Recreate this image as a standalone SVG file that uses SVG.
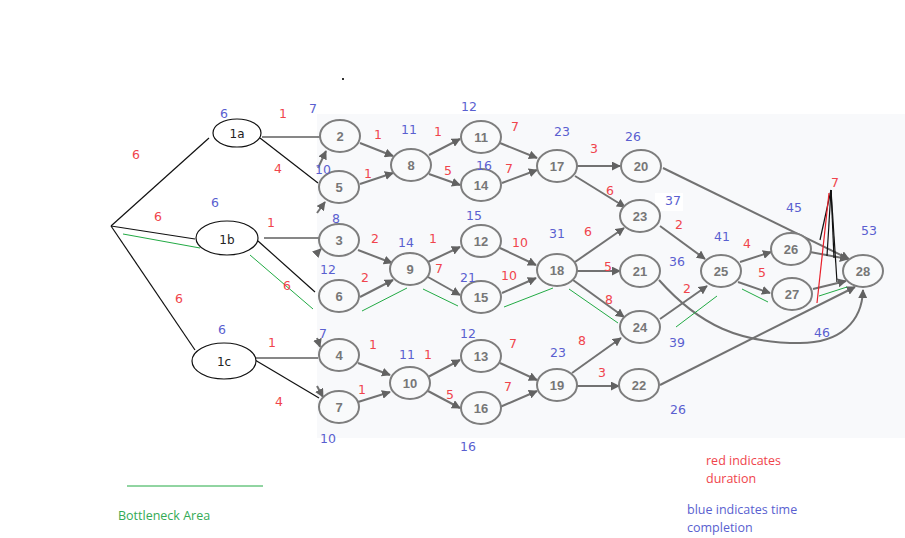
<svg xmlns="http://www.w3.org/2000/svg" width="905" height="538" viewBox="0 0 905 538">
<defs>
<marker id="ah" viewBox="0 0 10 10" refX="9" refY="5" markerWidth="4.5" markerHeight="4.5" orient="auto"><path d="M0,0 L10,5 L0,10 z" fill="#626262"/></marker>
<style>
.bg{fill:#f8f9fb}
.g ellipse{fill:#f9fafb;stroke:#7e7e7e;stroke-width:2}
.g text{font-family:"Liberation Sans",Arial,sans-serif;font-weight:bold;font-size:13px;fill:#777;text-anchor:middle;dominant-baseline:central}
.b ellipse{fill:#fff;stroke:#111;stroke-width:1.2}
.b text{font-family:"DejaVu Sans",Verdana,sans-serif;font-size:12px;fill:#222;text-anchor:middle;dominant-baseline:central}
.a{stroke:#727272;stroke-width:2;fill:none;marker-end:url(#ah)}
.k{stroke:#111;stroke-width:1.2;fill:none}
.gr{stroke:#22aa44;stroke-width:1;fill:none}
.rl{stroke:#e8202a;stroke-width:1.2;fill:none}
.lb text{font-family:"DejaVu Sans",Verdana,sans-serif;font-size:12.5px;text-anchor:middle;dominant-baseline:central}
.r{fill:#f0444c}
.u{fill:#5a5fd0}
.lg{font-family:"Open Sans","Liberation Sans",sans-serif;font-size:12.5px}
</style>
</defs>
<rect width="905" height="538" fill="#fff"/>
<rect class="bg" x="317" y="114" width="588" height="324"/>
<rect x="655" y="193" width="28" height="18" fill="#fff"/>
<rect x="342" y="78" width="2" height="2" fill="#333"/>

<g id="connectors">
<path class="k" d="M111,226 L209,138"/>
<path class="k" d="M111,226 L195,239"/>
<path class="k" d="M111,226 L195,350"/>
<path class="k" d="M262,137 L323,137"/>
<path class="k" d="M260,138 L318,183"/>
<path class="k" d="M264,238 L326,238"/>
<path class="k" d="M258,241 L315,292"/>
<path class="k" d="M256,358 L318,358"/>
<path class="k" d="M255,360 L319,398"/>
<path class="a" d="M318,168 L326,151"/>
<path class="a" d="M317,213 L325,202"/>
<path class="a" d="M316,254 L321,249"/>
<path class="a" d="M317,338 L320,347"/>
<path class="a" d="M317,386 L323,397"/>
<path class="a" d="M360,143 L393,156"/>
<path class="a" d="M360,184 L393,173"/>
<path class="a" d="M429,155 L460,139"/>
<path class="a" d="M429,174 L460,185"/>
<path class="a" d="M500,143 L537,158"/>
<path class="a" d="M502,183 L537,170"/>
<path class="a" d="M577,166 L620,166"/>
<path class="a" d="M575,176 L625,207"/>
<path class="a" d="M358,250 L392,263"/>
<path class="a" d="M360,297 L393,280"/>
<path class="a" d="M428,262 L460,247"/>
<path class="a" d="M428,277 L460,295"/>
<path class="a" d="M500,248 L536,265"/>
<path class="a" d="M502,293 L536,278"/>
<path class="a" d="M575,262 L624,228"/>
<path class="a" d="M577,271 L620,271"/>
<path class="a" d="M573,280 L624,317"/>
<path class="a" d="M358,363 L390,375"/>
<path class="a" d="M358,402 L390,392"/>
<path class="a" d="M428,377 L460,360"/>
<path class="a" d="M428,391 L460,408"/>
<path class="a" d="M500,363 L537,380"/>
<path class="a" d="M500,407 L537,391"/>
<path class="a" d="M572,373 L621,338"/>
<path class="a" d="M577,386 L619,386"/>
<path class="a" d="M660,226 L705,259"/>
<path class="a" d="M660,319 L707,286"/>
<path class="a" d="M740,262 L771,252"/>
<path class="a" d="M738,282 L770,293"/>
<path class="a" d="M663,168 L849,259"/>
<path class="a" d="M810,252 L848,259"/>
<path class="a" d="M813,289 L846,281"/>
<path class="a" d="M660,385 L855,287"/>
<path class="a" d="M659,280 C700,326 740,343 800,343 C840,343 862,322 863,290"/>
<path class="k" d="M831,190 L820,240"/>
<path class="k" d="M831,190 L827,256"/>
<path class="k" d="M831,190 L834,258"/>
<path class="k" d="M831,190 L837,282"/>
<path class="rl" d="M829,193 L817,303"/>
<path class="gr" d="M123,234 L200,248"/>
<path class="gr" d="M250,255 L313,309"/>
<path class="gr" d="M362,311 L407,288"/>
<path class="gr" d="M423,289 L458,306"/>
<path class="gr" d="M504,307 L553,288"/>
<path class="gr" d="M569,289 L618,323"/>
<path class="gr" d="M676,327 L717,296"/>
<path class="gr" d="M742,289 L768,302"/>
<path class="gr" d="M819,296 L847,287"/>
</g>

<g id="n1a" class="b"><ellipse cx="237" cy="133" rx="24" ry="14"/><text x="237" y="134">1a</text></g>
<g id="n1b" class="b"><ellipse cx="227" cy="238" rx="31" ry="17"/><text x="227" y="240">1b</text></g>
<g id="n1c" class="b"><ellipse cx="224" cy="361" rx="32" ry="18"/><text x="224" y="362">1c</text></g>

<g id="n2" class="g"><ellipse cx="340" cy="136" rx="20" ry="16"/><text x="340" y="136">2</text></g>
<g id="n5" class="g"><ellipse cx="339" cy="187" rx="20" ry="16"/><text x="339" y="187">5</text></g>
<g id="n3" class="g"><ellipse cx="339" cy="240" rx="20" ry="16"/><text x="339" y="240">3</text></g>
<g id="n6" class="g"><ellipse cx="339" cy="296" rx="20" ry="16"/><text x="339" y="296">6</text></g>
<g id="n4" class="g"><ellipse cx="339" cy="355" rx="20" ry="16"/><text x="339" y="355">4</text></g>
<g id="n7" class="g"><ellipse cx="339" cy="407" rx="20" ry="16"/><text x="339" y="407">7</text></g>
<g id="n8" class="g"><ellipse cx="411" cy="165" rx="20" ry="16"/><text x="411" y="165">8</text></g>
<g id="n9" class="g"><ellipse cx="410" cy="269" rx="20" ry="16"/><text x="410" y="269">9</text></g>
<g id="n10" class="g"><ellipse cx="410" cy="383" rx="20" ry="16"/><text x="410" y="383">10</text></g>
<g id="n11" class="g"><ellipse cx="481" cy="137" rx="20" ry="16"/><text x="481" y="137">11</text></g>
<g id="n14" class="g"><ellipse cx="481" cy="185" rx="20" ry="16"/><text x="481" y="185">14</text></g>
<g id="n12" class="g"><ellipse cx="481" cy="241" rx="20" ry="16"/><text x="481" y="241">12</text></g>
<g id="n15" class="g"><ellipse cx="481" cy="297" rx="20" ry="16"/><text x="481" y="297">15</text></g>
<g id="n13" class="g"><ellipse cx="481" cy="356" rx="20" ry="16"/><text x="481" y="356">13</text></g>
<g id="n16" class="g"><ellipse cx="481" cy="408" rx="20" ry="16"/><text x="481" y="408">16</text></g>
<g id="n17" class="g"><ellipse cx="557" cy="166" rx="20" ry="16"/><text x="557" y="166">17</text></g>
<g id="n18" class="g"><ellipse cx="557" cy="270" rx="20" ry="16"/><text x="557" y="270">18</text></g>
<g id="n19" class="g"><ellipse cx="557" cy="385" rx="20" ry="16"/><text x="557" y="385">19</text></g>
<g id="n20" class="g"><ellipse cx="641" cy="166" rx="20" ry="16"/><text x="641" y="166">20</text></g>
<g id="n23" class="g"><ellipse cx="640" cy="216" rx="20" ry="16"/><text x="640" y="216">23</text></g>
<g id="n21" class="g"><ellipse cx="640" cy="271" rx="20" ry="16"/><text x="640" y="271">21</text></g>
<g id="n24" class="g"><ellipse cx="640" cy="327" rx="20" ry="16"/><text x="640" y="327">24</text></g>
<g id="n22" class="g"><ellipse cx="639" cy="385" rx="20" ry="16"/><text x="639" y="385">22</text></g>
<g id="n25" class="g"><ellipse cx="721" cy="271" rx="20" ry="16"/><text x="721" y="271">25</text></g>
<g id="n26" class="g"><ellipse cx="791" cy="249" rx="20" ry="16"/><text x="791" y="249">26</text></g>
<g id="n27" class="g"><ellipse cx="792" cy="294" rx="20" ry="16"/><text x="792" y="294">27</text></g>
<g id="n28" class="g"><ellipse cx="863" cy="271" rx="20" ry="16"/><text x="863" y="271">28</text></g>

<g id="labels" class="lb">
<text class="r" x="136" y="154">6</text>
<text class="r" x="283" y="113">1</text>
<text class="r" x="278" y="168">4</text>
<text class="r" x="158" y="216">6</text>
<text class="r" x="271" y="222">1</text>
<text class="r" x="179" y="298">6</text>
<text class="r" x="287" y="285">6</text>
<text class="r" x="272" y="342">1</text>
<text class="r" x="279" y="401">4</text>
<text class="r" x="378" y="134">1</text>
<text class="r" x="368" y="173">1</text>
<text class="r" x="438" y="131">1</text>
<text class="r" x="448" y="170">5</text>
<text class="r" x="515" y="126">7</text>
<text class="r" x="509" y="168">7</text>
<text class="r" x="594" y="148">3</text>
<text class="r" x="610" y="190">6</text>
<text class="r" x="375" y="238">2</text>
<text class="r" x="365" y="277">2</text>
<text class="r" x="433" y="238">1</text>
<text class="r" x="439" y="268">7</text>
<text class="r" x="520" y="242">10</text>
<text class="r" x="509" y="275">10</text>
<text class="r" x="588" y="231">6</text>
<text class="r" x="608" y="266">5</text>
<text class="r" x="609" y="299">8</text>
<text class="r" x="373" y="344">1</text>
<text class="r" x="362" y="389">1</text>
<text class="r" x="428" y="354">1</text>
<text class="r" x="450" y="394">5</text>
<text class="r" x="513" y="343">7</text>
<text class="r" x="508" y="386">7</text>
<text class="r" x="582" y="340">8</text>
<text class="r" x="602" y="372">3</text>
<text class="r" x="679" y="224">2</text>
<text class="r" x="687" y="288">2</text>
<text class="r" x="747" y="243">4</text>
<text class="r" x="762" y="272">5</text>
<text class="r" x="835" y="182">7</text>

<text class="u" x="224" y="113">6</text>
<text class="u" x="215" y="202">6</text>
<text class="u" x="222" y="329">6</text>
<text class="u" x="313" y="108">7</text>
<text class="u" x="323" y="169">10</text>
<text class="u" x="336" y="218">8</text>
<text class="u" x="328" y="269">12</text>
<text class="u" x="323" y="333">7</text>
<text class="u" x="328" y="438">10</text>
<text class="u" x="409" y="129">11</text>
<text class="u" x="469" y="106">12</text>
<text class="u" x="484" y="165">16</text>
<text class="u" x="562" y="131">23</text>
<text class="u" x="633" y="136">26</text>
<text class="u" x="673" y="200">37</text>
<text class="u" x="474" y="215">15</text>
<text class="u" x="406" y="242">14</text>
<text class="u" x="468" y="277">21</text>
<text class="u" x="557" y="233">31</text>
<text class="u" x="677" y="261">36</text>
<text class="u" x="722" y="236">41</text>
<text class="u" x="794" y="207">45</text>
<text class="u" x="869" y="230">53</text>
<text class="u" x="822" y="332">46</text>
<text class="u" x="677" y="342">39</text>
<text class="u" x="468" y="333">12</text>
<text class="u" x="407" y="354">11</text>
<text class="u" x="558" y="352">23</text>
<text class="u" x="678" y="409">26</text>
<text class="u" x="468" y="446">16</text>
</g>

<g id="legend">
<line x1="127" y1="486" x2="263" y2="486" stroke="#22aa44" stroke-width="1"/>
<text class="lg" x="118" y="520" fill="#33aa55">Bottleneck Area</text>
<text class="lg" x="706" y="465" fill="#f0444c">red indicates</text>
<text class="lg" x="706" y="483" fill="#f0444c">duration</text>
<text class="lg" x="687" y="514" fill="#5a5fd0">blue indicates time</text>
<text class="lg" x="687" y="532" fill="#5a5fd0">completion</text>
</g>
</svg>
